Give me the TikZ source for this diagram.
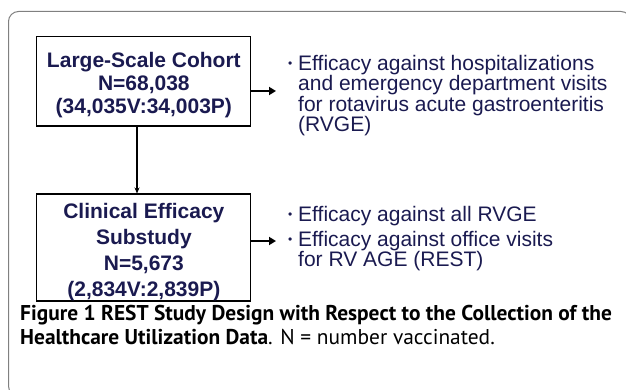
\documentclass[tikz,border=0pt]{standalone}
\usepackage{fontspec}
\setmainfont{Liberation Sans}
\newfontfamily\capfont{PT Sans}
\usetikzlibrary{arrows.meta}
\definecolor{navy}{RGB}{26,26,80}
\definecolor{framegray}{RGB}{128,128,128}
\newcommand{\bul}{\makebox[10pt][l]{\fontsize{12}{12}\selectfont\raisebox{3pt}{•}}}
\begin{document}
\begin{tikzpicture}[x=1pt,y=-1pt,
  boxnode/.style={draw=black, line width=1.2pt, minimum width=214pt, inner sep=0pt, align=center, text=navy},
  bultext/.style={anchor=north west, inner sep=0pt, align=left, font=\fontsize{21}{20.3}\selectfont, text=navy},
  thinarrow/.style={-{Stealth[length=6pt,width=5pt]}, line width=1.2pt},
  thickarrow/.style={-{Triangle[length=7pt,width=8pt]}, line width=2.5pt}]
\useasboundingbox (0,0) rectangle (626,390);
\begin{scope}
\clip (0,0) rectangle (626,390);
\draw[framegray, line width=1pt, rounded corners=10pt] (8.5,11.5) rectangle (631,396);
\end{scope}
\node[boxnode, minimum height=89.3pt, font=\fontsize{21}{22.7}\selectfont\bfseries] (cohort) at (143.85,81.35) {\rule{0pt}{23pt}Large-Scale Cohort\\N=68,038\\(34,035V:34,003P)};
\node[boxnode, minimum height=101pt, font=\fontsize{21}{26}\selectfont\bfseries] (sub) at (143.85,247.5) {\rule{0pt}{24.5pt}Clinical Efficacy\\Substudy\\N=5,673\\(2,834V:2,839P)};
\coordinate (vx) at (137,0);
\draw[thinarrow] (cohort.south -| vx) -- (sub.north -| vx);
\coordinate (t1) at (276,91);
\coordinate (t2) at (276,241);
\draw[thickarrow] (cohort.east |- t1) -- (t1);
\draw[thickarrow] (sub.east |- t2) -- (t2);
\node[bultext] (g1) at (288,55) {\bul Efficacy against hospitalizations\\\hspace*{10pt}and emergency department visits\\\hspace*{10pt}for rotavirus acute gastroenteritis\\\hspace*{10pt}(RVGE)};
\node[bultext] (g2a) at (288,206) {\bul Efficacy against all RVGE};
\node[bultext] (g2b) at (288,231) {\bul Efficacy against office visits\\\hspace*{10pt}for RV AGE (REST)};
\node[anchor=north west, inner sep=0pt, align=left, font=\capfont\fontsize{21.4}{24}\selectfont] (cap) at (20,305) {\textbf{Figure 1 REST Study Design with Respect to the Collection of the}\\\textbf{Healthcare Utilization Data}. N = number vaccinated.};
\end{tikzpicture}
\end{document}
